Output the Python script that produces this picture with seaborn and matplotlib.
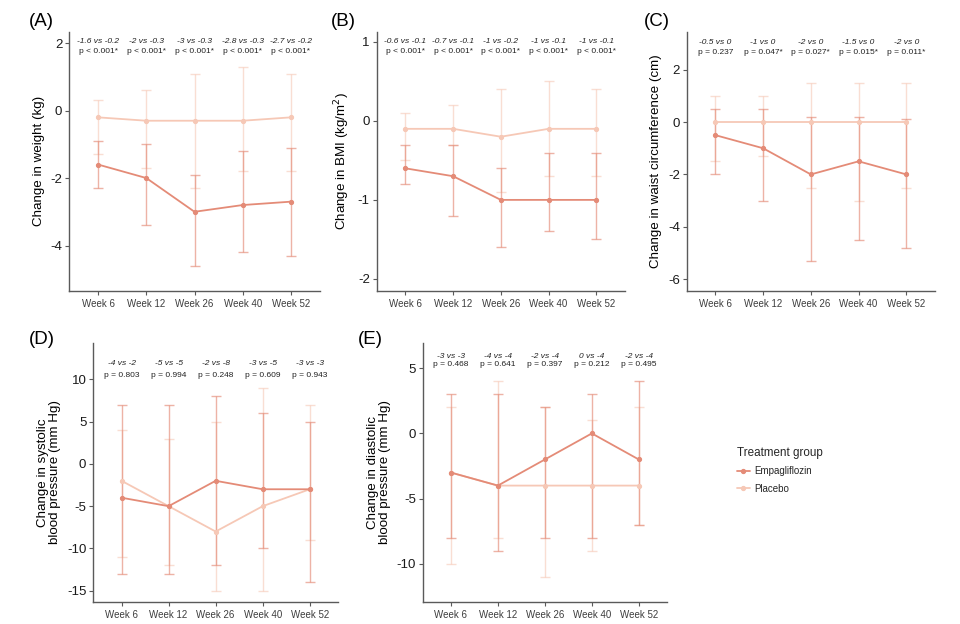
import matplotlib
matplotlib.use("Agg")
import matplotlib.pyplot as plt
import seaborn as sns
import pandas as pd
import numpy as np
from matplotlib.lines import Line2D

# ---------------- data ----------------
weeks = ["Week 6", "Week 12", "Week 26", "Week 40", "Week 52"]
groups = ["Empagliflozin", "Placebo"]

# (A) weight, kg  (median, lower, upper)
weight_empa = [-1.6, -2.0, -3.0, -2.8, -2.7]
weight_empa_lo = [-2.3, -3.4, -4.6, -4.2, -4.3]
weight_empa_hi = [-0.9, -1.0, -1.9, -1.2, -1.1]
weight_plac = [-0.2, -0.3, -0.3, -0.3, -0.2]
weight_plac_lo = [-1.3, -1.7, -2.3, -1.8, -1.8]
weight_plac_hi = [0.3, 0.6, 1.1, 1.3, 1.1]
weight_p = ["p < 0.001*", "p < 0.001*", "p < 0.001*", "p < 0.001*", "p < 0.001*"]

# (B) BMI
bmi_empa = [-0.6, -0.7, -1.0, -1.0, -1.0]
bmi_empa_lo = [-0.8, -1.2, -1.6, -1.4, -1.5]
bmi_empa_hi = [-0.3, -0.3, -0.6, -0.4, -0.4]
bmi_plac = [-0.1, -0.1, -0.2, -0.1, -0.1]
bmi_plac_lo = [-0.5, -0.3, -0.9, -0.7, -0.7]
bmi_plac_hi = [0.1, 0.2, 0.4, 0.5, 0.4]
bmi_p = ["p < 0.001*", "p < 0.001*", "p < 0.001*", "p < 0.001*", "p < 0.001*"]

# (C) waist circumference
waist_empa = [-0.5, -1.0, -2.0, -1.5, -2.0]
waist_empa_lo = [-2.0, -3.0, -5.3, -4.5, -4.8]
waist_empa_hi = [0.5, 0.5, 0.2, 0.2, 0.1]
waist_plac = [0.0, 0.0, 0.0, 0.0, 0.0]
waist_plac_lo = [-1.5, -1.3, -2.5, -3.0, -2.5]
waist_plac_hi = [1.0, 1.0, 1.5, 1.5, 1.5]
waist_p = ["p = 0.237", "p = 0.047*", "p = 0.027*", "p = 0.015*", "p = 0.011*"]

# (D) systolic blood pressure
sbp_empa = [-4, -5, -2, -3, -3]
sbp_empa_lo = [-13, -13, -12, -10, -14]
sbp_empa_hi = [7, 7, 8, 6, 5]
sbp_plac = [-2, -5, -8, -5, -3]
sbp_plac_lo = [-11, -12, -15, -15, -9]
sbp_plac_hi = [4, 3, 5, 9, 7]
sbp_p = ["p = 0.803", "p = 0.994", "p = 0.248", "p = 0.609", "p = 0.943"]

# (E) diastolic blood pressure
dbp_empa = [-3, -4, -2, 0, -2]
dbp_empa_lo = [-8, -9, -8, -8, -7]
dbp_empa_hi = [3, 3, 2, 3, 4]
dbp_plac = [-3, -4, -4, -4, -4]
dbp_plac_lo = [-10, -8, -11, -9, -7]
dbp_plac_hi = [2, 4, 2, 1, 2]
dbp_p = ["p = 0.468", "p = 0.641", "p = 0.397", "p = 0.212", "p = 0.495"]

# ---------------- style ----------------
sns.set_theme(style="ticks")
plt.rcParams["font.family"] = ["Liberation Sans", "DejaVu Sans"]
plt.rcParams["axes.unicode_minus"] = False

colors = {"Empagliflozin": "#E48B77", "Placebo": "#F6C8B6"}
err_alpha = {"Empagliflozin": 0.65, "Placebo": 0.6}

W, H = 960, 624
fig = plt.figure(figsize=(W / 100, H / 100), dpi=100)


def rect(l, r, t, b):
    return [l / W, 1 - b / H, (r - l) / W, (b - t) / H]


panels = [
    dict(lab="(A)", labxy=(41, 21), rect=rect(69.3, 319.7, 31.7, 290.7),
         ylabel="Change in weight (kg)", ylim=(-5.34, 2.34), yticks=[-4, -2, 0, 2],
         e=(weight_empa, weight_empa_lo, weight_empa_hi),
         p=(weight_plac, weight_plac_lo, weight_plac_hi), pv=weight_p, ann=(0.961, 0.922)),
    dict(lab="(B)", labxy=(343, 21), rect=rect(376.7, 625, 31.7, 290.7),
         ylabel="Change in BMI (kg/m$^2$)", ylim=(-2.15, 1.13), yticks=[-2, -1, 0, 1],
         e=(bmi_empa, bmi_empa_lo, bmi_empa_hi),
         p=(bmi_plac, bmi_plac_lo, bmi_plac_hi), pv=bmi_p, ann=(0.961, 0.922)),
    dict(lab="(C)", labxy=(657, 21), rect=rect(686.7, 935, 31.7, 290.7),
         ylabel="Change in waist circumference (cm)", ylim=(-6.44, 3.45), yticks=[-6, -4, -2, 0, 2],
         e=(waist_empa, waist_empa_lo, waist_empa_hi),
         p=(waist_plac, waist_plac_lo, waist_plac_hi), pv=waist_p, ann=(0.958, 0.919)),
    dict(lab="(D)", labxy=(42, 340), rect=rect(93.3, 338, 343, 601.7),
         ylabel="Change in systolic\nblood pressure (mm Hg)", ylim=(-16.3, 14.3),
         yticks=[-15, -10, -5, 0, 5, 10],
         e=(sbp_empa, sbp_empa_lo, sbp_empa_hi),
         p=(sbp_plac, sbp_plac_lo, sbp_plac_hi), pv=sbp_p, ann=(0.921, 0.876)),
    dict(lab="(E)", labxy=(370, 340), rect=rect(422.7, 667, 343, 601.7),
         ylabel="Change in diastolic\nblood pressure (mm Hg)", ylim=(-12.9, 6.93),
         yticks=[-10, -5, 0, 5],
         e=(dbp_empa, dbp_empa_lo, dbp_empa_hi),
         p=(dbp_plac, dbp_plac_lo, dbp_plac_hi), pv=dbp_p, ann=(0.947, 0.915)),
]

xpos = np.arange(len(weeks))

for pan in panels:
    ax = fig.add_axes(pan["rect"])
    series = {"Empagliflozin": pan["e"], "Placebo": pan["p"]}
    df = pd.DataFrame({
        "week": weeks * 2,
        "group": [g for g in ["Placebo", "Empagliflozin"] for _ in weeks],
        "value": list(series["Placebo"][0]) + list(series["Empagliflozin"][0]),
    })
    for g in ["Placebo", "Empagliflozin"]:
        med, lo, hi = (np.array(v, dtype=float) for v in series[g])
        ax.errorbar(xpos, med, yerr=[med - lo, hi - med], fmt="none",
                    ecolor=colors[g], alpha=err_alpha[g], elinewidth=1.0,
                    capsize=3.5, capthick=1.0, zorder=2)
    sns.pointplot(data=df, x="week", y="value", hue="group", order=weeks,
                  hue_order=["Placebo", "Empagliflozin"], palette=colors,
                  markers="o", markersize=2.8, linewidth=1.3, errorbar=None,
                  dodge=False, legend=False, ax=ax)
    ax.set_xlim(-0.6, len(weeks) - 0.4)
    ax.set_ylim(*pan["ylim"])
    ax.set_yticks(pan["yticks"])
    ax.set_xlabel("")
    ax.set_ylabel(pan["ylabel"], fontsize=9.6, color="black", labelpad=4, linespacing=1.0)
    for s in ["top", "right"]:
        ax.spines[s].set_visible(False)
    for s in ["left", "bottom"]:
        ax.spines[s].set_color("#5a5a5a")
        ax.spines[s].set_linewidth(1.0)
    ax.tick_params(axis="y", labelsize=9.5, labelcolor="#1a1a1a", length=3, width=0.8,
                   color="#5a5a5a", pad=2)
    ax.tick_params(axis="x", labelsize=7, labelcolor="#3d3d3d", length=3, width=0.8,
                   color="#5a5a5a", pad=3)
    ax.set_facecolor("white")
    ax.grid(False)
    # annotations
    for i, (ev, pvv, ptxt) in enumerate(zip(series["Empagliflozin"][0], series["Placebo"][0], pan["pv"])):
        ax.text(xpos[i], pan["ann"][0], f"{ev:g} vs {pvv:g}", transform=ax.get_xaxis_transform(),
                ha="center", va="center", fontsize=6, style="italic", color="#222222")
        ax.text(xpos[i], pan["ann"][1], ptxt, transform=ax.get_xaxis_transform(),
                ha="center", va="center", fontsize=6, color="#222222")
    fig.text(pan["labxy"][0] / W, 1 - pan["labxy"][1] / H, pan["lab"], fontsize=13.5,
             ha="center", va="center", color="black")

handles = [Line2D([0], [0], color=colors[g], marker="o", markersize=2.8, lw=1.3) for g in groups]
leg = fig.legend(handles, groups, title="Treatment group", loc="upper left",
                 bbox_to_anchor=(737 / W, 1 - 447 / H), frameon=False, fontsize=7,
                 title_fontsize=8.4, handlelength=1.3, handletextpad=0.5,
                 borderpad=0, borderaxespad=0, labelspacing=0.75, alignment="left")

fig.savefig("out.png", dpi=100, facecolor="white")
